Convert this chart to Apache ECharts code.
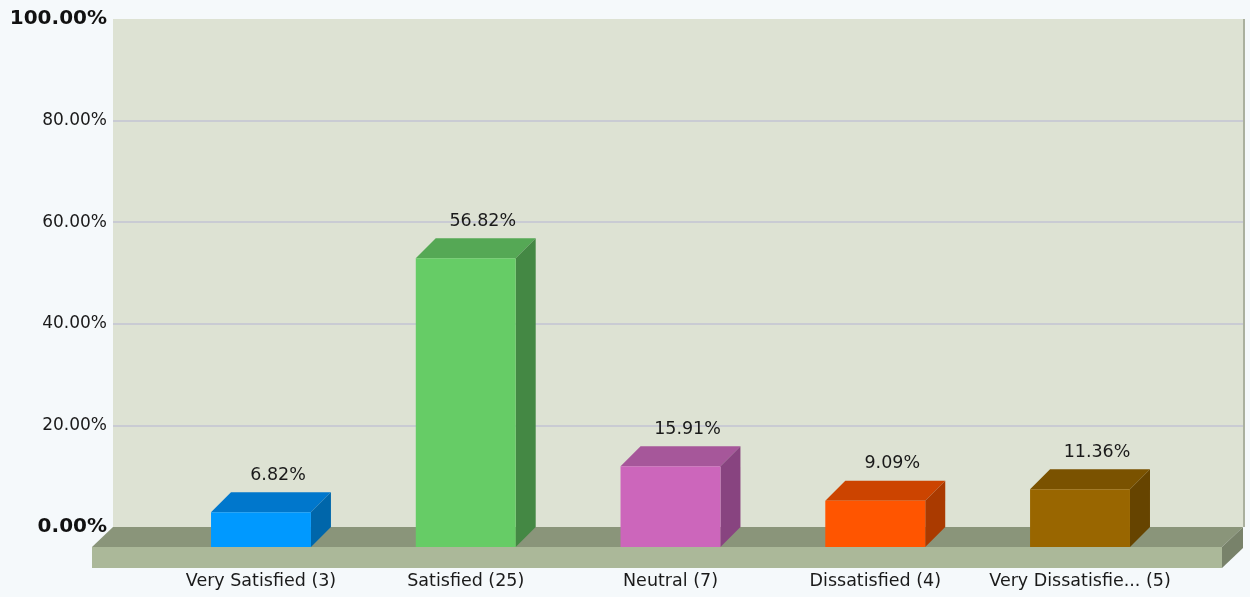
<!DOCTYPE html>
<html lang="en">
  <head>
    <meta charset="UTF-8" />
    <title>Satisfaction survey</title>
    <script src="https://cdn.jsdelivr.net/npm/echarts@6/dist/echarts.min.js"></script>
    <style>
      html, body { margin: 0; padding: 0; background: #f5f9fb; }
      #main { width: 1250px; height: 597px; }
    </style>
  </head>
  <body>
    <div id="main"></div>
    <script>
      var categories = ["Very Satisfied (3)", "Satisfied (25)", "Neutral (7)", "Dissatisfied (4)", "Very Dissatisfie... (5)"];
      var percents = [6.82, 56.82, 15.91, 9.09, 11.36];
      var frontColors = ["#0099ff", "#66cc66", "#cc66bb", "#ff5500", "#996600"];
      var topColors = ["#0077cc", "#55a855", "#a6579a", "#cc4400", "#7a5200"];
      var sideColors = ["#0066aa", "#448844", "#884480", "#aa3a00", "#664400"];

      var FONT = "DejaVu Sans";
      var DEPTH = 20; // 3d offset in px

      var chart = echarts.init(document.getElementById("main"));

      // floor slab + wall edge, drawn from the back grid's extent
      function renderFloor(params, api) {
        var cs = params.coordSys;
        var x0 = cs.x, x1 = cs.x + cs.width, yb = cs.y + cs.height;
        var d = DEPTH, th = 21;
        return {
          type: "group",
          children: [
            { type: "rect", shape: { x: x1, y: cs.y, width: 2, height: cs.height }, style: { fill: "#aab09e" } },
            { type: "polygon", shape: { points: [[x0, yb], [x1, yb], [x1 - d - 1, yb + d], [x0 - d - 1, yb + d]] }, style: { fill: "#8a957a" } },
            { type: "rect", shape: { x: x0 - d - 1, y: yb + d, width: x1 - x0, height: th }, style: { fill: "#abb899" } },
            { type: "polygon", shape: { points: [[x1 - d - 1, yb + d], [x1, yb], [x1, yb + th], [x1 - d - 1, yb + d + th]] }, style: { fill: "#78826a" } }
          ]
        };
      }

      function renderBar(params, api) {
        var i = api.value(0);
        var v = api.value(1);
        var base = api.coord([i, 0]);
        var top = api.coord([i, v]);
        var w = api.size([1, 0])[0] * 0.488;
        var xl = base[0] - w / 2, xr = base[0] + w / 2;
        var yb = base[1], yt = top[1];
        var d = DEPTH;
        return {
          type: "group",
          children: [
            { type: "polygon", shape: { points: [[xl, yt], [xl + d, yt - d], [xr + d, yt - d], [xr, yt]] }, style: { fill: topColors[i] } },
            { type: "polygon", shape: { points: [[xr, yt], [xr + d, yt - d], [xr + d, yb - d], [xr, yb]] }, style: { fill: sideColors[i] } },
            { type: "rect", shape: { x: xl, y: yt, width: w, height: yb - yt }, style: { fill: frontColors[i] } },
            {
              type: "text",
              x: base[0] + 17,
              y: yt - d - 8,
              style: { text: v.toFixed(2) + "%", fill: "#1a1a1a", font: "17.5px '" + FONT + "'", align: "center", verticalAlign: "bottom" }
            }
          ]
        };
      }

      var option = {
        backgroundColor: "#f5f9fb",
        animation: false,
        grid: [
          { left: 113, right: 7, top: 19, bottom: 70, show: true, backgroundColor: "#dde2d3", borderWidth: 0 },
          { left: 158.6, right: 67.6, top: 39, bottom: 50 }
        ],
        xAxis: [
          { gridIndex: 0, type: "category", data: [""], show: false },
          {
            gridIndex: 1,
            type: "category",
            data: categories,
            axisLine: { show: false },
            axisTick: { show: false },
            axisLabel: { margin: 25, color: "#1a1a1a", fontFamily: FONT, fontSize: 17.5, interval: 0 }
          }
        ],
        yAxis: [
          {
            gridIndex: 0,
            type: "value",
            min: 0,
            max: 100,
            interval: 20,
            axisLine: { show: false },
            axisTick: { show: false },
            splitLine: {
              lineStyle: { color: ["rgba(0,0,0,0)", "#c9cbd3", "#c9cbd3", "#c9cbd3", "#c9cbd3", "rgba(0,0,0,0)"], width: 2 }
            },
            axisLabel: {
              margin: 6,
              color: "#1a1a1a",
              fontFamily: FONT,
              fontSize: 17,
              formatter: function (v) {
                var s = v.toFixed(2) + "%";
                return v === 0 || v === 100 ? "{b|" + s + "}" : s;
              },
              rich: { b: { fontFamily: FONT, fontSize: 20, fontWeight: "bold", color: "#111" } }
            }
          },
          { gridIndex: 1, type: "value", min: 0, max: 100, show: false }
        ],
        series: [
          { type: "custom", xAxisIndex: 0, yAxisIndex: 0, renderItem: renderFloor, data: [[0, 0]], z: 1, silent: true },
          {
            type: "custom",
            xAxisIndex: 1,
            yAxisIndex: 1,
            renderItem: renderBar,
            data: percents.map(function (p, i) { return [i, p]; }),
            z: 2
          }
        ]
      };

      chart.setOption(option);
    </script>
  </body>
</html>
